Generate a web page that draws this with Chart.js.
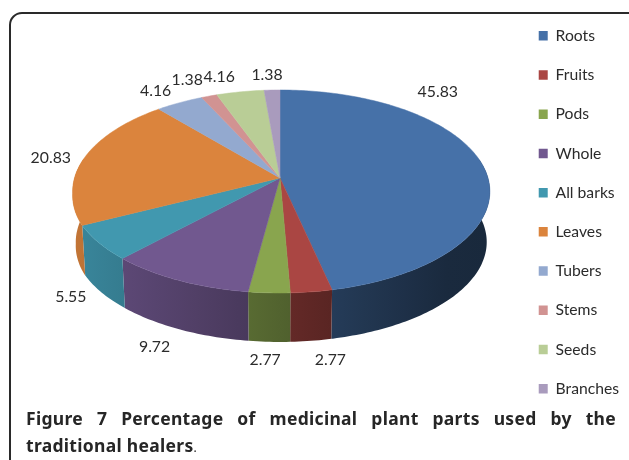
<!DOCTYPE html>
<html>
<head>
<meta charset="utf-8">
<script src="https://cdn.jsdelivr.net/npm/chart.js@4"></script>
<style>
  html, body { margin: 0; padding: 0; background: #fff; overflow: hidden; }
  #wrap { position: relative; width: 629px; height: 460px; overflow: hidden; }
  #frame { position: absolute; left: 9px; top: 12px; width: 640px; height: 480px; border: 2px solid #2a2a2a; border-radius: 13px; box-sizing: border-box; }
  canvas { position: absolute; left: 0; top: 0; }
  .cap { position: absolute; left: 26px; width: 590px; font-family: "Noto Sans", sans-serif; font-size: 17.5px; font-weight: 700; color: #262626; letter-spacing: 0.3px; white-space: nowrap; }
  #cap1 { top: 406px; text-align: justify; text-align-last: justify; white-space: normal; }
  #cap2 { top: 433px; }
  #cap2 span { font-weight: 400; font-size: 12px; }
</style>
</head>
<body>
<div id="wrap">
  <div id="frame"></div>
  <canvas id="myChart" width="629" height="460"></canvas>
  <div class="cap" id="cap1">Figure 7 Percentage of medicinal plant parts used by the</div>
  <div class="cap" id="cap2">traditional healers<span>.</span></div>
</div>
<script>
const parts = ["Roots", "Fruits", "Pods", "Whole", "All barks", "Leaves", "Tubers", "Stems", "Seeds", "Branches"];
const percents = [45.83, 2.77, 2.77, 9.72, 5.55, 20.83, 4.16, 1.38, 4.16, 1.38];
const colors = ["#4671a8", "#aa4643", "#89a54e", "#71588f", "#4198af", "#db843d", "#93a9cf", "#d19392", "#b9cd96", "#a99bbd"];

// label shift from the rim point in the middle of each slice
const labelShift = [[-46, -75], [19, 68], [-4, 67], [-24, 67], [-28, 54], [-33, -1], [-24, -12], [-22, -16], [-21, -15], [-5, -15]];

// perspective view of the disc
const view = { cx: 280, cy: 178, a: 208, b: 99.7, k: 0.133, depth: 50.7, shrink: 0.985 };

function project(angle, lower) {
  const u = Math.cos(angle);
  const v = Math.sin(angle);
  const d = 1 - view.k * v;
  const s = lower ? view.shrink : 1;
  // the left rim of the picture sits a little closer in above the middle
  const left = u < 0 ? 1 - 0.012 * Math.min(1, Math.max(0, (0.45 - v) / 0.3)) : 1;
  return {
    x: view.cx + s * view.a * u * left / d,
    y: view.cy + s * view.b * v / d + (lower ? view.depth : 0)
  };
}

function shade(hex, f) {
  const n = parseInt(hex.slice(1), 16);
  const r = Math.round((n >> 16) * f);
  const g = Math.round(((n >> 8) & 255) * f);
  const b = Math.round((n & 255) * f);
  return "rgb(" + r + "," + g + "," + b + ")";
}

const pie3d = {
  id: "pie3d",
  beforeDatasetsDraw(chart) {
    const ctx = chart.ctx;
    const arcs = chart.getDatasetMeta(0).data;
    const step = Math.PI / 180;

    // side wall, lit from the left
    arcs.forEach(function(arc, i) {
      const top = [], bottom = [];
      for (let a = arc.startAngle; a <= arc.endAngle + step; a += step) {
        const e = Math.min(a, arc.endAngle);
        if (Math.sin(e) < -0.2) continue;
        top.push(project(e, false));
        bottom.push(project(e, true));
      }
      if (!top.length) return;
      const grad = ctx.createLinearGradient(view.cx - view.a, 0, view.cx + view.a, 0);
      for (let t = 0; t <= 1; t += 0.1) {
        grad.addColorStop(Math.min(t, 1), shade(colors[i], Math.max(0.36, 0.6 - 0.29 * (2 * t - 1))));
      }
      ctx.fillStyle = grad;
      ctx.beginPath();
      top.forEach(function(p, n) { n ? ctx.lineTo(p.x, p.y) : ctx.moveTo(p.x, p.y); });
      bottom.reverse().forEach(function(p) { ctx.lineTo(p.x, p.y); });
      ctx.closePath();
      ctx.fill();
    });

    // top face
    arcs.forEach(function(arc, i) {
      ctx.fillStyle = colors[i];
      ctx.strokeStyle = colors[i];
      ctx.lineWidth = 0.5;
      ctx.beginPath();
      ctx.moveTo(view.cx, view.cy);
      for (let a = arc.startAngle; a < arc.endAngle; a += step) {
        const p = project(a, false);
        ctx.lineTo(p.x, p.y);
      }
      const last = project(arc.endAngle, false);
      ctx.lineTo(last.x, last.y);
      ctx.closePath();
      ctx.fill();
      ctx.stroke();
    });

    // value labels
    ctx.fillStyle = "#2b2b2b";
    ctx.font = "15.8px Lato";
    ctx.textAlign = "center";
    ctx.textBaseline = "middle";
    arcs.forEach(function(arc, i) {
      const p = project((arc.startAngle + arc.endAngle) / 2, false);
      ctx.fillText(percents[i].toFixed(2), p.x + labelShift[i][0], p.y + labelShift[i][1]);
    });
    return false;
  }
};

const myChart = new Chart(document.getElementById("myChart"), {
  type: "pie",
  data: {
    labels: parts,
    datasets: [{ data: percents, backgroundColor: colors, borderWidth: 0 }]
  },
  options: {
    responsive: false,
    animation: false,
    layout: { padding: { top: 4.5, right: 0 } },
    plugins: {
      tooltip: { enabled: false },
      legend: {
        position: "right",
        align: "start",
        labels: { boxWidth: 9, boxHeight: 9.5, padding: 23.5, color: "#2b2b2b", font: { family: "Lato", size: 15.7 } }
      }
    }
  },
  plugins: [pie3d]
});
</script>
</body>
</html>
